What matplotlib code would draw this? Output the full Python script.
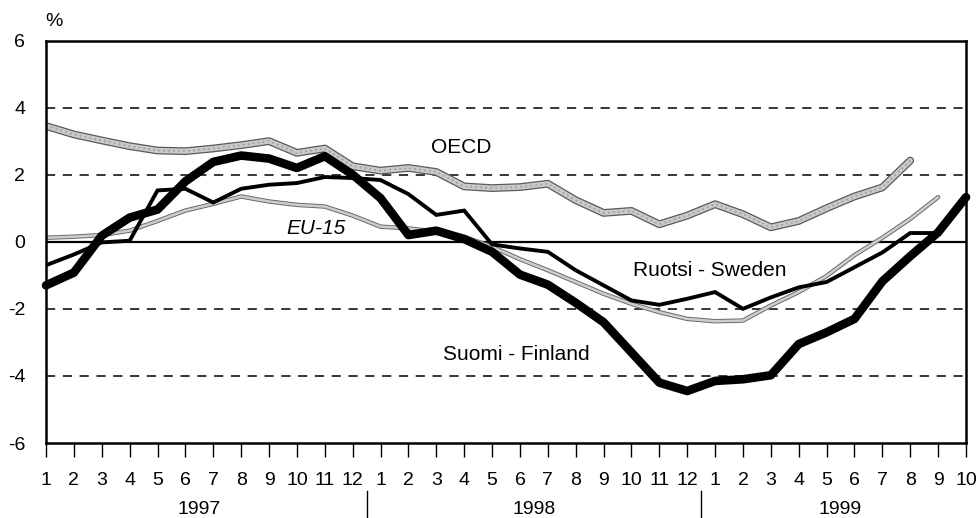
import matplotlib
matplotlib.use("Agg")
import matplotlib.pyplot as plt
from matplotlib.transforms import blended_transform_factory

plt.rcParams['font.family'] = ['Liberation Sans', 'DejaVu Sans']

month_labels = [str(m) for m in range(1, 13)] + [str(m) for m in range(1, 13)] + [str(m) for m in range(1, 11)]
years = ["1997", "1998", "1999"]

finland = [-1.3, -0.92, 0.18, 0.72, 0.96, 1.8, 2.38, 2.57, 2.48, 2.2, 2.55, 2.0,
           1.3, 0.2, 0.33, 0.08, -0.3, -0.98, -1.28, -1.82, -2.4, -3.3, -4.2, -4.45,
           -4.15, -4.1, -3.98, -3.05, -2.7, -2.3, -1.18, -0.43, 0.28, 1.33]
sweden = [-0.7, -0.38, -0.02, 0.03, 1.53, 1.58, 1.17, 1.58, 1.7, 1.75, 1.93, 1.9,
          1.84, 1.42, 0.8, 0.93, -0.08, -0.2, -0.3, -0.85, -1.3, -1.75, -1.88, -1.7,
          -1.5, -2.0, -1.66, -1.36, -1.2, -0.76, -0.32, 0.26, 0.26]
oecd = [3.45, 3.2, 3.02, 2.85, 2.72, 2.7, 2.78, 2.88, 3.0, 2.65, 2.78, 2.25,
        2.12, 2.2, 2.08, 1.65, 1.6, 1.63, 1.73, 1.24, 0.86, 0.92, 0.52, 0.78,
        1.12, 0.82, 0.43, 0.62, 1.0, 1.35, 1.62, 2.42]
eu15 = [0.12, 0.15, 0.2, 0.33, 0.62, 0.93, 1.13, 1.35, 1.2, 1.1, 1.05, 0.78,
        0.45, 0.4, 0.3, 0.15, -0.15, -0.52, -0.85, -1.2, -1.55, -1.85, -2.1, -2.3,
        -2.37, -2.35, -1.9, -1.5, -1.02, -0.4, 0.12, 0.68, 1.33]

fig = plt.figure(figsize=(9.78, 5.18), dpi=100)
ax = fig.add_axes([46/978, 1-443/518, 920/978, 402.5/518])

x = list(range(len(month_labels)))

# grid lines
for g in [4, 2, -2, -4]:
    ax.axhline(g, color='black', lw=1.1, ls=(0, (6, 5)), zorder=1)
ax.axhline(0, color='black', lw=1.6, zorder=1)

# OECD (stippled grey thick)
xo = x[:len(oecd)]
ax.plot(xo, oecd, color='#5a5a5a', lw=5.6, solid_capstyle='round', solid_joinstyle='round', zorder=2)
ax.plot(xo, oecd, color='#c9c9c9', lw=3.8, solid_capstyle='round', solid_joinstyle='round', zorder=2)
ax.plot(xo, oecd, color='#9a9a9a', lw=1.2, ls=(0, (1, 2)), zorder=2)
# EU-15
xe = x[:len(eu15)]
ax.plot(xe, eu15, color='#6a6a6a', lw=3.2, solid_capstyle='round', solid_joinstyle='round', zorder=2)
ax.plot(xe, eu15, color='#cdcdcd', lw=1.8, solid_capstyle='round', solid_joinstyle='round', zorder=2)
# Sweden
xs = x[:len(sweden)]
ax.plot(xs, sweden, color='black', lw=2.8, solid_joinstyle='miter', zorder=3)
# Finland
ax.plot(x[:len(finland)], finland, color='black', lw=6.2, solid_capstyle='round',
        solid_joinstyle='round', zorder=4, clip_on=False)

ax.set_xlim(0, len(month_labels) - 1)
ax.set_ylim(-6, 6)
ax.set_yticks([6, 4, 2, 0, -2, -4, -6])
ax.set_yticklabels(['6', '4', '2', '0', '-2', '-4', '-6'], fontsize=14)
ax.yaxis.set_tick_params(which='major', length=0, pad=15)
ax.set_xticks(x)
ax.set_xticklabels(month_labels, fontsize=14)
ax.xaxis.set_tick_params(which='major', length=10, width=1, direction='out', pad=11)
for s in ax.spines.values():
    s.set_linewidth(1.8)
    s.set_color('black')

# series labels
ax.text(14.9, 2.8, "OECD", fontsize=15, ha='center', va='center')
ax.text(9.7, 0.39, "EU-15", fontsize=15, style='italic', ha='center', va='center')
ax.text(23.8, -0.87, "Ruotsi - Sweden", fontsize=15, ha='center', va='center')
ax.text(16.86, -3.35, "Suomi - Finland", fontsize=15, ha='center', va='center')

# year labels and separators
tr = blended_transform_factory(ax.transData, fig.transFigure)
year_centers = [5.5, 17.5, 28.5]
for yc, yl in zip(year_centers, years):
    ax.text(yc, 1 - 510/518, yl, transform=tr, fontsize=14, ha='center', va='center')
for sep in [11.5, 23.5]:
    ax.plot([sep, sep], [0, 1 - 491/518], transform=tr, color='black', lw=1.0, clip_on=False)

fig.text(54/978, 1 - 22/518, "%", fontsize=14, ha='center', va='center')

fig.savefig("out.png", dpi=100)
